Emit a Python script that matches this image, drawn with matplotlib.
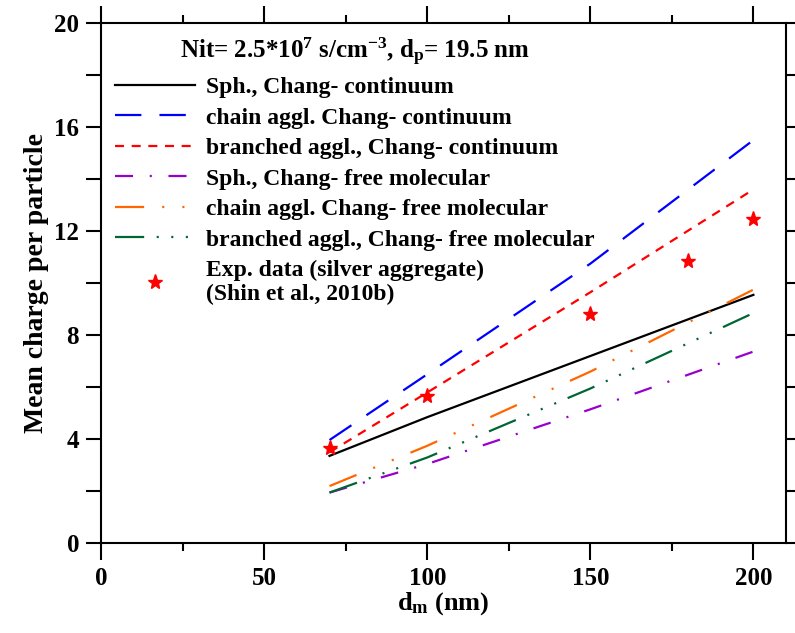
import matplotlib
matplotlib.use("Agg")
import matplotlib.pyplot as plt
from matplotlib.ticker import MultipleLocator

# ---------- DATA ----------
dm = [70, 100, 150, 200]
sph_cont = [3.36, 4.85, 7.2, 9.55]
chain_cont = [3.97, 6.5, 10.75, 15.5]
branch_cont = [3.5, 5.8, 9.65, 13.6]
sph_fm = [1.95, 3.05, 5.15, 7.37]
chain_fm = [2.2, 3.75, 6.6, 9.75]
branch_fm = [1.95, 3.3, 5.95, 8.85]

exp_dm = [70, 100, 150, 180, 200]
exp_q = [3.65, 5.65, 8.8, 10.85, 12.47]

# ---------- STYLE ----------
plt.rcParams["font.family"] = ["Liberation Serif", "DejaVu Serif"]
plt.rcParams["font.weight"] = "bold"
plt.rcParams["mathtext.fontset"] = "custom"
plt.rcParams["mathtext.rm"] = "Liberation Serif:bold"
plt.rcParams["mathtext.it"] = "Liberation Serif:bold:italic"
plt.rcParams["mathtext.bf"] = "Liberation Serif:bold"
plt.rcParams["mathtext.default"] = "rm"
plt.rcParams["lines.scale_dashes"] = False

fig = plt.figure(figsize=(7.95, 6.33), dpi=100)
ax = fig.add_axes([0.1274, 0.1417, 0.8613, 0.822])

lw = 1.6
ax.plot(dm, sph_cont, color="black", lw=lw, label="Sph., Chang- continuum")
ax.plot(dm, chain_cont, color="#0000ff", lw=lw, dashes=(19, 13),
        label="chain aggl. Chang- continuum")
ax.plot(dm, branch_cont, color="#ff0000", lw=lw, dashes=(6.5, 5.5),
        label="branched aggl., Chang- continuum")
ax.plot(dm, sph_fm, color="#9900cc", lw=lw, dashes=(13, 12, 1.5, 12),
        label="Sph., Chang- free molecular")
ax.plot(dm, chain_fm, color="#ff6600", lw=lw, dashes=(21, 13, 1.5, 13, 1.5, 13),
        label="chain aggl. Chang- free molecular")
ax.plot(dm, branch_fm, color="#006633", lw=lw,
        dashes=(21, 9, 1.5, 9, 1.5, 9, 1.5, 9),
        label="branched aggl., Chang- free molecular")
ax.plot(exp_dm, exp_q, linestyle="none", marker="*", color="#ff0000",
        markersize=11, label="Exp. data (silver aggregate)\n(Shin et al., 2010b)")

ax.set_xlim(0, 210)
ax.set_ylim(0, 20)
ax.xaxis.set_major_locator(MultipleLocator(50))
ax.xaxis.set_minor_locator(MultipleLocator(25))
ax.yaxis.set_major_locator(MultipleLocator(4))
ax.yaxis.set_minor_locator(MultipleLocator(2))

for s in ax.spines.values():
    s.set_linewidth(1.5)
ax.tick_params(axis="x", which="both", direction="out", top=True, bottom=True,
               width=1.5, labelsize=18, pad=5)
ax.tick_params(axis="x", which="major", length=12)
ax.tick_params(axis="x", which="minor", length=6)
ax.tick_params(axis="y", which="both", direction="out", left=True, right=True,
               width=1.5, length=11, labelsize=18, pad=5)

ax.set_xlabel(r"d$_\mathrm{m}$ (nm)", fontsize=19, fontweight="bold", labelpad=0)
ax.set_ylabel("Mean charge per particle", fontsize=20, fontweight="bold", labelpad=4)

leg = ax.legend(loc="upper left", frameon=False, fontsize=17,
                title=r"Nit= 2.5*10$^{7}$ s/cm$^{-3}$, d$_\mathrm{p}$= 19.5 nm",
                title_fontproperties={"size": 18, "weight": "bold"},
                handlelength=3.4, handletextpad=0.45, labelspacing=0.38,
                borderaxespad=0.3, bbox_to_anchor=(-0.004, 1.008))

fig.savefig("out.png", dpi=100)
